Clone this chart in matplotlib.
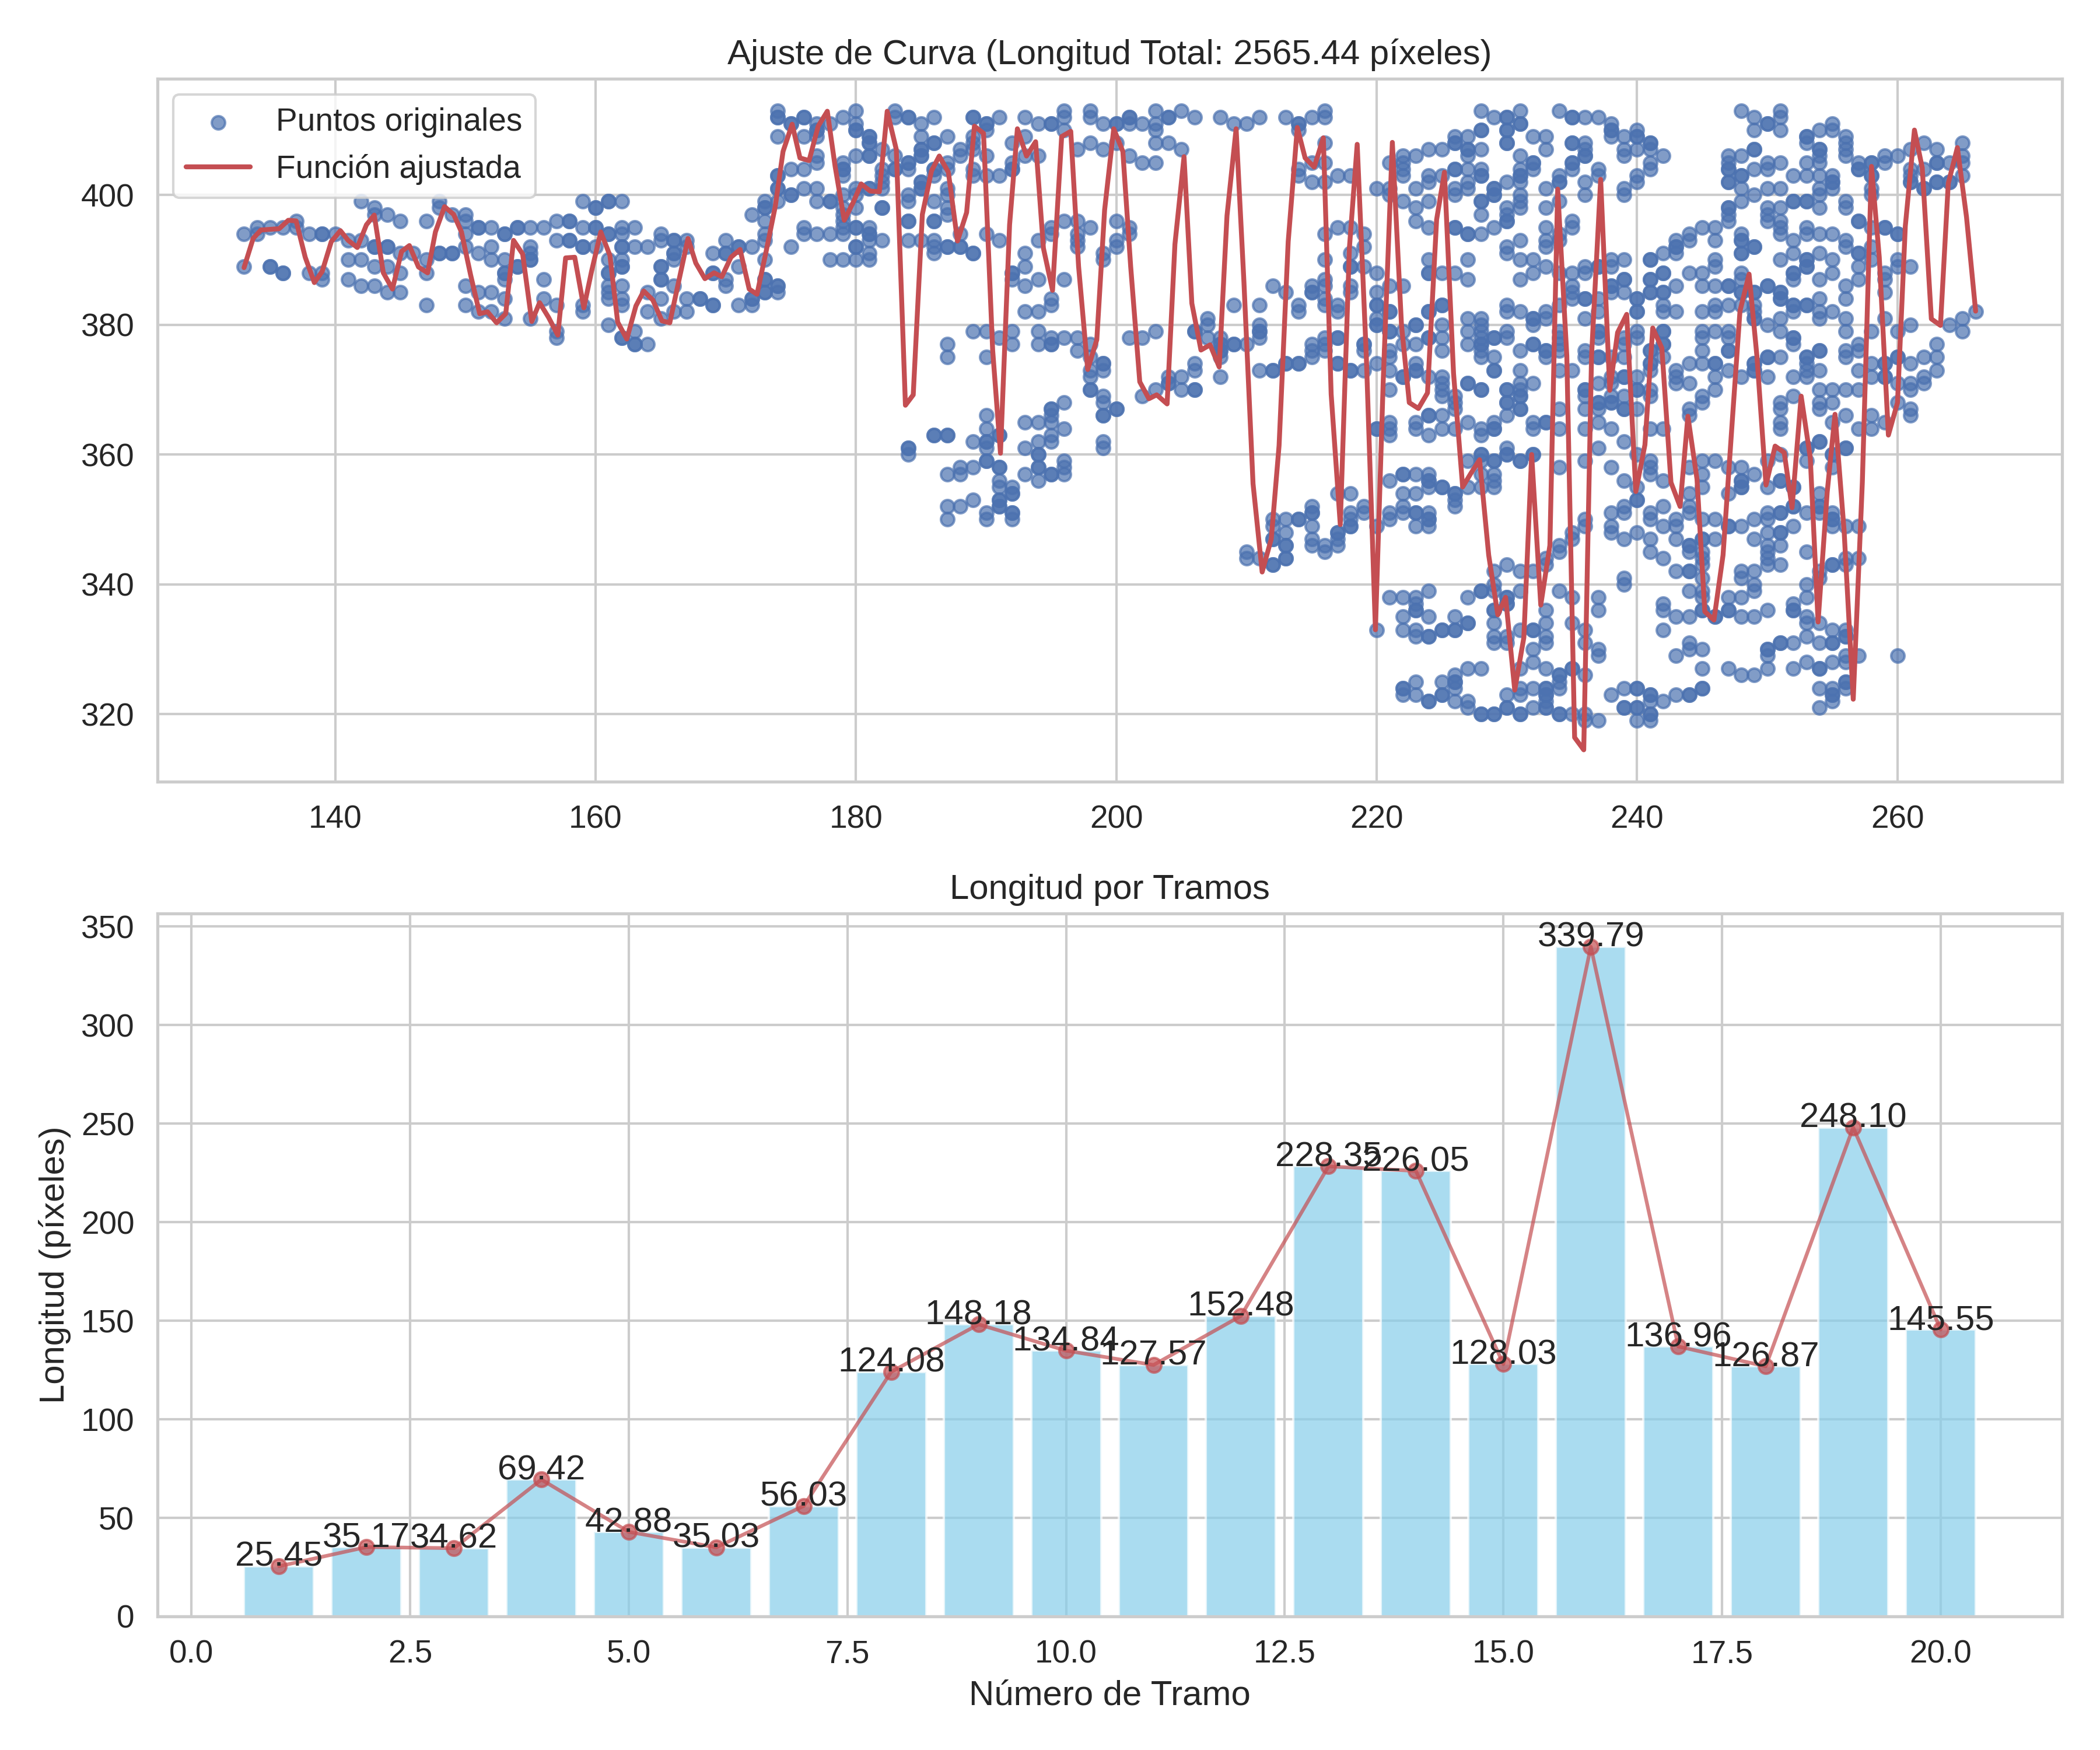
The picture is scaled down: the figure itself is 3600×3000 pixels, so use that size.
import matplotlib
matplotlib.use('Agg')
import matplotlib.pyplot as plt
import seaborn as sns

# Puntos originales: una lista de valores Y por cada columna X
# (un valor repetido es un punto mas oscuro en la figura)
columnas_x = [133, 134, 135, 136, 137, 138, 139, 140, 141, 142, 143, 144, 145, 146, 147, 148, 149, 150, 151, 152,
              153, 154, 155, 156, 157, 158, 159, 160, 161, 162, 163, 164, 165, 166, 167, 168, 169, 170, 171, 172,
              173, 174, 175, 176, 177, 178, 179, 180, 181, 182, 183, 184, 185, 186, 187, 188, 189, 190, 191, 192,
              193, 194, 195, 196, 197, 198, 199, 200, 201, 202, 203, 204, 205, 206, 207, 208, 209, 210, 211, 212,
              213, 214, 215, 216, 217, 218, 219, 220, 221, 222, 223, 224, 225, 226, 227, 228, 229, 230, 231, 232,
              233, 234, 235, 236, 237, 238, 239, 240, 241, 242, 243, 244, 245, 246, 247, 248, 249, 250, 251, 252,
              253, 254, 255, 256, 257, 258, 259, 260, 261, 262, 263, 264, 265, 266]
columnas_y = [
    [394, 389],
    [395, 394],
    [395, 389, 389],
    [395, 388, 388],
    [396, 395],
    [394, 388],
    [394, 394, 388, 387],
    [394],
    [393, 390, 387],
    [399, 393, 390, 386],
    [398, 397, 392, 392, 389, 386],
    [397, 392, 392, 389, 385],
    [396, 391, 388, 385],
    [391],
    [396, 390, 388, 383],
    [399, 398, 391, 391],
    [397, 391, 391],
    [397, 396, 394, 392, 386, 383],
    [395, 395, 391, 385, 382],
    [395, 392, 390, 385, 382],
    [394, 394, 390, 388, 388, 387, 384, 381],
    [395, 395, 389, 389],
    [395, 392, 391, 390, 390, 381],
    [395, 387, 384],
    [396, 393, 383, 379, 378],
    [396, 396, 393, 393],
    [399, 395, 392, 392, 383, 382],
    [398, 398, 395, 395, 392],
    [399, 399, 394, 394, 390, 388, 388, 386, 385, 384, 380],
    [399, 395, 394, 392, 392, 390, 389, 389, 386, 384, 383, 378, 378],
    [395, 392, 379, 377, 377],
    [392, 385, 382, 377],
    [394, 393, 389, 389, 387, 387, 384, 381],
    [393, 393, 391, 391, 390, 386, 382],
    [393, 392, 384, 382],
    [384, 384],
    [391, 388, 388, 383, 383],
    [393, 391, 391, 387, 386],
    [392, 392, 389, 383],
    [397, 392, 384, 384, 383],
    [399, 398, 398, 396, 394, 393, 390, 387, 387, 385, 385],
    [413, 412, 412, 409, 403, 403, 401, 401, 399, 386, 386, 385],
    [411, 411, 404, 400, 400, 392],
    [412, 412, 409, 404, 401, 395, 394],
    [411, 410, 410, 409, 406, 405, 401, 399, 394],
    [411, 399, 399, 394, 390],
    [412, 405, 404, 404, 403, 400, 398, 397, 396, 395, 394, 390],
    [413, 411, 410, 410, 406, 401, 400, 398, 395, 395, 392, 392, 390],
    [409, 409, 408, 408, 406, 406, 401, 401, 395, 394, 394, 393, 391, 390],
    [407, 404, 403, 402, 401, 398, 398, 393],
    [413, 412, 406, 404, 404],
    [412, 412, 405, 405, 404, 400, 399, 396, 396, 393, 361, 361, 360],
    [411, 409, 407, 407, 406, 406, 402, 402, 401, 401, 393],
    [412, 408, 408, 404, 404, 403, 399, 396, 396, 393, 392, 391, 363, 363],
    [409, 405, 404, 401, 400, 398, 397, 392, 392, 377, 375, 363, 363, 357, 352, 350],
    [407, 406, 394, 392, 392, 358, 357, 352],
    [412, 412, 409, 408, 407, 404, 403, 391, 391, 379, 362, 358, 353],
    [411, 411, 410, 406, 403, 394, 379, 375, 366, 364, 362, 362, 361, 359, 359, 351, 350],
    [412, 403, 393, 378, 363, 363, 358, 358, 356, 355, 353, 353, 352, 352],
    [408, 405, 404, 404, 388, 388, 387, 379, 377, 355, 354, 354, 351, 351, 350],
    [412, 409, 406, 391, 389, 386, 382, 365, 361, 357],
    [411, 406, 393, 387, 382, 379, 377, 365, 362, 360, 360, 358, 358, 356],
    [411, 411, 395, 394, 384, 383, 378, 377, 377, 367, 367, 366, 365, 363, 362, 357, 357],
    [413, 412, 410, 396, 387, 378, 368, 364, 359, 358, 357],
    [407, 396, 394, 393, 392, 378, 376],
    [413, 412, 408, 395, 377, 375, 373, 372, 370, 370],
    [411, 407, 391, 390, 374, 374, 373, 369, 368, 366, 366, 362, 361],
    [411, 411, 408, 396, 393, 392, 367, 367],
    [412, 412, 411, 406, 395, 394, 378],
    [411, 405, 378, 369],
    [413, 411, 410, 408, 405, 379, 370],
    [412, 412, 408, 372, 371, 371],
    [413, 407, 372, 370],
    [412, 379, 379, 374, 373, 370, 370],
    [381, 380, 378],
    [412, 378, 377, 377, 376, 376, 375, 372],
    [411, 383, 377, 377],
    [411, 377, 345, 344],
    [412, 383, 380, 379, 379, 378, 373, 344],
    [386, 373, 373, 350, 349, 347, 347, 343, 343],
    [412, 385, 374, 374, 350, 348, 346, 346, 344, 344],
    [411, 411, 410, 404, 403, 383, 382, 374, 374, 350, 350],
    [412, 405, 402, 386, 385, 385, 377, 376, 375, 352, 351, 351, 349, 347, 346],
    [413, 412, 408, 405, 402, 394, 390, 387, 386, 384, 383, 378, 377, 376, 346, 345],
    [403, 395, 383, 382, 378, 378, 374, 374, 354, 348, 348, 347, 346],
    [403, 395, 391, 389, 389, 386, 385, 373, 373, 354, 351, 350, 349, 349],
    [394, 392, 389, 377, 377, 376, 373, 352, 351],
    [401, 388, 385, 383, 383, 381, 380, 380, 374, 364, 364, 349, 333],
    [405, 401, 400, 386, 382, 382, 379, 379, 376, 375, 373, 370, 365, 364, 363, 356, 351, 350, 338],
    [406, 405, 404, 403, 399, 386, 379, 377, 372, 372, 357, 357, 354, 352, 351, 338, 335, 333, 324, 324, 323],
    [406, 401, 398, 396, 380, 380, 377, 374, 373, 373, 365, 364, 357, 354, 351, 351, 349, 338, 337, 336, 336, 333,
     332, 325, 323],
    [407, 403, 402, 399, 395, 390, 388, 388, 382, 382, 378, 378, 372, 366, 366, 363, 357, 356, 356, 355, 351, 350,
     350, 349, 339, 335, 332, 332, 322, 322],
    [407, 403, 388, 383, 383, 380, 378, 376, 372, 371, 370, 369, 366, 364, 355, 355, 333, 333, 325, 323, 323],
    [409, 408, 408, 404, 404, 401, 400, 395, 395, 388, 369, 368, 367, 364, 354, 354, 353, 352, 335, 333, 333, 326,
     325, 325, 324, 322],
    [409, 407, 407, 406, 404, 402, 401, 394, 394, 390, 387, 381, 379, 377, 371, 371, 365, 359, 355, 338, 334, 334,
     327, 322, 321],
    [413, 410, 410, 407, 404, 403, 403, 399, 399, 397, 394, 381, 380, 379, 378, 377, 377, 376, 375, 370, 370, 364,
     363, 360, 360, 359, 357, 355, 339, 339, 327, 320, 320],
    [412, 401, 401, 400, 400, 395, 378, 378, 375, 373, 373, 365, 364, 364, 359, 359, 357, 356, 355, 342, 340, 339,
     336, 336, 334, 332, 331, 320, 320],
    [412, 412, 410, 410, 408, 408, 402, 398, 397, 396, 396, 392, 391, 383, 382, 379, 378, 370, 370, 368, 368, 366,
     361, 360, 360, 343, 338, 338, 337, 337, 332, 331, 323, 321, 321],
    [413, 411, 411, 406, 404, 403, 403, 402, 400, 399, 398, 393, 390, 387, 382, 376, 373, 371, 370, 369, 369, 367,
     367, 359, 359, 342, 339, 333, 327, 324, 323, 320, 320],
    [409, 405, 405, 404, 390, 388, 381, 381, 380, 377, 377, 371, 365, 364, 360, 360, 342, 333, 333, 330, 328, 324,
     321],
    [409, 407, 401, 398, 395, 393, 392, 389, 382, 381, 376, 376, 375, 365, 365, 344, 343, 336, 334, 332, 331, 327,
     324, 324, 323, 323, 322, 321, 321],
    [413, 403, 402, 402, 399, 394, 393, 388, 383, 379, 378, 377, 376, 373, 367, 364, 358, 346, 345, 339, 326, 326,
     325, 324, 320, 320],
    [412, 412, 408, 408, 405, 405, 404, 396, 395, 388, 386, 385, 384, 373, 348, 347, 338, 334, 327, 327, 320],
    [412, 408, 407, 406, 406, 402, 400, 389, 388, 384, 384, 381, 376, 375, 370, 370, 369, 367, 364, 359, 350, 349,
     333, 331, 326, 320, 319],
    [412, 404, 403, 389, 389, 384, 382, 379, 379, 378, 375, 375, 371, 368, 368, 367, 365, 361, 338, 336, 330, 329,
     319],
    [411, 410, 410, 409, 390, 389, 386, 386, 385, 375, 372, 371, 369, 368, 368, 364, 358, 351, 349, 348, 323],
    [409, 407, 406, 401, 400, 390, 387, 387, 385, 378, 377, 375, 372, 372, 369, 367, 367, 362, 356, 352, 351, 347,
     341, 340, 324, 321, 321],
    [410, 409, 409, 407, 403, 402, 384, 384, 382, 382, 379, 378, 372, 370, 370, 367, 360, 355, 353, 353, 348, 324,
     324, 321, 321, 319],
    [408, 408, 407, 405, 404, 390, 390, 387, 387, 385, 385, 376, 376, 374, 374, 373, 370, 369, 364, 359, 358, 357,
     351, 350, 347, 345, 323, 323, 322, 320, 320, 319],
    [406, 391, 388, 388, 385, 385, 383, 382, 379, 379, 377, 377, 375, 364, 356, 352, 349, 344, 337, 336, 333, 322],
    [393, 392, 392, 391, 386, 382, 373, 372, 371, 350, 349, 347, 342, 335, 329, 323],
    [394, 393, 388, 374, 371, 367, 366, 358, 354, 352, 351, 346, 346, 345, 342, 342, 339, 335, 331, 330, 323, 323],
    [395, 388, 386, 382, 379, 378, 376, 374, 369, 368, 359, 357, 355, 350, 347, 347, 345, 344, 343, 341, 339, 338,
     336, 336, 330, 327, 324, 324],
    [395, 393, 390, 389, 386, 383, 382, 379, 374, 374, 372, 370, 359, 350, 347, 335, 335],
    [406, 405, 404, 404, 402, 402, 398, 398, 397, 396, 386, 386, 383, 379, 378, 376, 376, 373, 358, 354, 349, 349,
     338, 336, 336, 327],
    [413, 406, 403, 403, 401, 399, 394, 393, 393, 391, 391, 388, 387, 385, 385, 383, 372, 358, 356, 356, 355, 355,
     349, 342, 341, 338, 335, 326],
    [412, 410, 407, 407, 404, 400, 392, 392, 385, 385, 383, 382, 381, 381, 374, 374, 373, 373, 357, 350, 347, 342,
     340, 339, 335, 326],
    [411, 411, 405, 404, 401, 398, 397, 396, 386, 386, 380, 375, 375, 372, 359, 355, 351, 350, 348, 346, 345, 344,
     343, 336, 330, 330, 329, 327],
    [413, 412, 410, 405, 401, 398, 396, 395, 394, 390, 385, 385, 384, 384, 381, 379, 375, 368, 367, 365, 364, 360,
     356, 356, 351, 351, 348, 348, 346, 343, 331, 331],
    [403, 399, 399, 393, 391, 388, 388, 387, 383, 383, 382, 378, 378, 377, 372, 369, 355, 355, 352, 352, 349, 337,
     336, 336, 331, 327],
    [409, 409, 408, 405, 403, 399, 399, 395, 394, 390, 390, 389, 389, 383, 383, 375, 375, 374, 373, 372, 361, 361,
     359, 351, 345, 340, 338, 335, 334, 332, 328],
    [410, 407, 407, 406, 405, 403, 401, 400, 398, 394, 391, 387, 384, 382, 381, 376, 376, 373, 370, 368, 367, 362,
     362, 354, 352, 352, 351, 342, 341, 334, 331, 327, 327, 324, 321],
    [411, 410, 403, 402, 402, 401, 394, 390, 388, 382, 370, 368, 365, 360, 360, 358, 351, 350, 350, 349, 343, 343,
     333, 331, 331, 328, 324, 323, 323, 322],
    [409, 408, 407, 406, 399, 398, 393, 392, 386, 384, 381, 379, 376, 375, 370, 366, 361, 361, 349, 344, 343, 333,
     332, 332, 329, 328, 325, 325, 324],
    [405, 404, 404, 396, 396, 391, 391, 389, 387, 377, 376, 373, 370, 364, 349, 344, 329],
    [405, 405, 403, 403, 401, 400, 395, 392, 390, 379, 374, 372, 366, 364],
    [406, 405, 395, 395, 388, 387, 385, 381, 374, 374, 372, 372, 365],
    [406, 394, 394, 390, 389, 379, 375, 375, 371, 368, 329],
    [407, 404, 403, 402, 402, 389, 380, 374, 371, 370, 367, 366],
    [408, 404, 401, 401, 375, 372, 371],
    [407, 405, 405, 402, 402, 377, 375, 373],
    [405, 402, 402, 380],
    [408, 406, 405, 403, 381, 379],
    [382],
]

# Funcion ajustada
curva_x = [133.0, 133.7, 134.3, 135.0, 135.7, 136.4, 137.0, 137.7, 138.4, 139.0, 139.7, 140.4, 141.0, 141.7, 142.4,
           143.0, 143.7, 144.4, 145.1, 145.7, 146.4, 147.1, 147.7, 148.4, 149.1, 149.7, 150.4, 151.1, 151.7, 152.4,
           153.1, 153.7, 154.4, 155.1, 155.7, 156.4, 157.1, 157.7, 158.4, 159.1, 159.7, 160.4, 161.1, 161.7, 162.4,
           163.1, 163.7, 164.4, 165.1, 165.7, 166.4, 167.1, 167.7, 168.4, 169.1, 169.7, 170.4, 171.1, 171.8, 172.4,
           173.1, 173.8, 174.4, 175.1, 175.7, 176.4, 177.1, 177.8, 178.4, 179.1, 179.8, 180.4, 181.1, 181.8, 182.4,
           183.1, 183.8, 184.4, 185.1, 185.8, 186.4, 187.1, 187.8, 188.5, 189.1, 189.8, 190.5, 191.1, 191.8, 192.4,
           193.1, 193.8, 194.4, 195.1, 195.8, 196.5, 197.1, 197.8, 198.5, 199.1, 199.8, 200.5, 201.1, 201.8, 202.5,
           203.1, 203.9, 204.5, 205.2, 205.8, 206.5, 207.2, 207.9, 208.5, 209.2, 209.8, 210.5, 211.2, 211.9, 212.5,
           213.2, 213.9, 214.5, 215.2, 215.9, 216.5, 217.2, 217.9, 218.5, 219.2, 219.9, 220.5, 221.2, 221.9, 222.5,
           223.2, 223.9, 224.6, 225.2, 225.9, 226.6, 227.2, 227.9, 228.6, 229.3, 229.9, 230.6, 231.3, 231.9, 232.6,
           233.3, 233.9, 234.6, 235.2, 235.9, 236.5, 237.2, 237.9, 238.5, 239.2, 239.9, 240.6, 241.2, 241.9, 242.6,
           243.3, 243.9, 244.6, 245.2, 245.9, 246.6, 247.3, 247.9, 248.6, 249.2, 249.9, 250.6, 251.3, 251.9, 252.6,
           253.3, 253.9, 254.6, 255.2, 255.9, 256.6, 257.3, 258.0, 258.6, 259.3, 260.0, 260.6, 261.3, 261.9, 262.6,
           263.3, 263.9, 264.6, 265.3, 266.0]
curva_y = [388.8, 393.3, 394.6, 394.7, 394.8, 396.1, 396.0, 390.4, 386.5, 388.2, 392.8, 394.5, 393.0, 391.9, 395.4,
           396.9, 388.0, 385.5, 391.3, 392.2, 388.9, 388.0, 394.3, 398.2, 397.0, 394.3, 387.7, 381.7, 382.0, 380.3,
           381.7, 393.0, 390.9, 380.5, 383.4, 381.1, 378.4, 390.3, 390.4, 382.6, 388.3, 394.3, 390.7, 380.4, 377.8,
           382.9, 385.2, 383.8, 380.6, 380.3, 386.8, 393.3, 389.5, 387.1, 388.0, 387.4, 390.4, 391.6, 385.5, 384.7,
           391.3, 398.2, 406.7, 410.9, 405.7, 405.3, 410.6, 412.9, 404.4, 396.1, 398.9, 401.7, 400.6, 400.5, 412.9,
           407.0, 367.6, 369.2, 397.0, 403.7, 406.0, 403.5, 392.9, 397.3, 410.6, 409.5, 376.1, 360.2, 395.4, 410.2,
           406.0, 408.2, 391.8, 385.3, 409.0, 409.8, 389.0, 373.1, 377.7, 397.7, 410.2, 406.7, 389.0, 371.2, 368.6,
           369.2, 367.8, 392.4, 405.9, 383.3, 376.1, 376.9, 373.5, 396.8, 410.2, 386.6, 355.5, 341.9, 347.0, 361.4,
           392.8, 410.4, 405.7, 404.3, 408.8, 369.3, 349.2, 391.8, 407.8, 375.2, 333.0, 371.4, 408.1, 380.0, 368.0,
           367.1, 369.5, 396.2, 403.5, 372.5, 355.0, 357.0, 359.2, 344.5, 335.3, 338.0, 323.7, 331.8, 360.0, 336.8,
           346.0, 400.9, 375.2, 316.4, 314.5, 375.2, 402.4, 369.9, 378.8, 381.6, 354.3, 361.5, 379.5, 376.4, 355.7,
           352.0, 365.9, 356.2, 335.8, 334.5, 344.5, 364.9, 382.1, 387.8, 375.2, 355.3, 361.3, 360.3, 351.8, 369.0,
           359.5, 334.2, 354.2, 366.2, 348.2, 322.3, 355.8, 404.4, 390.4, 363.0, 368.0, 395.2, 410.0, 404.2, 380.9,
           379.9, 401.8, 407.3, 396.6, 382.1]

# Longitud por tramos
tramos = [1, 2, 3, 4, 5, 6, 7, 8, 9, 10, 11, 12, 13, 14, 15, 16, 17, 18, 19, 20]
longitudes = [25.45, 35.17, 34.62, 69.42, 42.88, 35.03, 56.03, 124.08, 148.18, 134.84,
              127.57, 152.48, 228.35, 226.05, 128.03, 339.79, 136.96, 126.87, 248.10, 145.55]
longitud_total = 2565.44


def main():
    sns.set_theme(style='whitegrid', font_scale=1.2)
    plt.rcParams['font.family'] = ['Liberation Sans', 'DejaVu Sans']

    puntos_x = []
    puntos_y = []
    for x, ys in zip(columnas_x, columnas_y):
        for y in ys:
            puntos_x.append(x)
            puntos_y.append(y)

    fig, (ax1, ax2) = plt.subplots(2, 1, figsize=(12, 10))

    # Grafico superior: puntos y curva
    ax1.scatter(puntos_x, puntos_y, color='b', s=30, alpha=0.7, label='Puntos originales')
    ax1.plot(curva_x, curva_y, 'r-', linewidth=2, label='Función ajustada')
    ax1.set_title(f'Ajuste de Curva (Longitud Total: {longitud_total:.2f} píxeles)')
    ax1.legend(loc='upper left')

    # Grafico inferior: barras por tramo
    ax2.bar(tramos, longitudes, color='skyblue', alpha=0.7)
    ax2.plot(tramos, longitudes, 'r-o', alpha=0.7)
    for t, l in zip(tramos, longitudes):
        ax2.text(t, l, f'{l:.2f}', ha='center')
    ax2.set_title('Longitud por Tramos')
    ax2.set_xlabel('Número de Tramo')
    ax2.set_ylabel('Longitud (píxeles)')

    plt.tight_layout()
    plt.savefig('out.png', dpi=300)


main()
